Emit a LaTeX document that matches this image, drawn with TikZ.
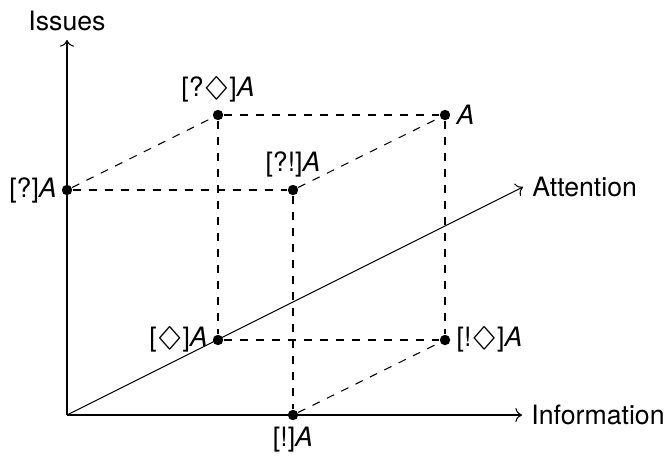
\documentclass[tikz,border=0pt]{standalone}
\usepackage{amsmath, amssymb}
\usepackage{graphicx}
\usepackage{fontspec}
\setmainfont{TeX Gyre Heros}
\usepackage{tikz}
\usetikzlibrary{arrows.meta}
\newcommand{\dmd}{\scalebox{1.45}[1.05]{$\Diamond$}}

\begin{document}
\begin{tikzpicture}[
    x=0.375pt, y=-0.375pt,
    dot/.style={circle, fill=black, inner sep=0pt, minimum size=3.9pt},
    lbl/.style={inner sep=0pt, font=\normalsize},
    axis/.style={draw, ->},
    guide/.style={draw, dashed}
  ]
    \useasboundingbox (0,0) rectangle (671,458);

    % Axes
    \coordinate (origin) at (67,415);
    \coordinate (infoend) at (522,415);
    \coordinate (issueend) at (67,40);
    \coordinate (attnend) at (523,187);
    \path [axis] (origin) -- (infoend) node [right] (info) {Information};
    \path [axis] (origin) -- (issueend) node [above] (issues) {Issues};
    \path [axis] (origin) -- (attnend) node [right] (attn) {Attention};

    % Nodes - the eight corners
    \node [dot, label={[lbl, label distance=1.5pt]left:[?]\textit{A}}] (q) at (67,190) {};
    \node [dot, label={[lbl, label distance=2.5pt]above:[?\dmd]\textit{A}}] (qd) at (218,115) {};
    \node [dot, label={[lbl, label distance=2pt]right:\textit{A}}] (a) at (445,115) {};
    \node [dot, label={[lbl, label distance=2.5pt]above:[?!]\textit{A}}] (qe) at (293,190) {};
    \node [dot, label={[lbl, label distance=1.5pt]left:[\dmd]\textit{A}}] (d) at (218,340) {};
    \node [dot, label={[lbl, label distance=2pt]right:[!\dmd]\textit{A}}] (ed) at (445,340) {};
    \node [dot, label={[lbl, label distance=2pt]below:[!]\textit{A}}] (e) at (293,415) {};

    % Dashed edges of the cube
    \path [guide] (q) -- (qd);
    \path [guide] (q) -- (qe);
    \path [guide] (qd) -- (a);
    \path [guide] (qe) -- (a);
    \path [guide] (qd) -- (d);
    \path [guide] (qe) -- (e);
    \path [guide] (a) -- (ed);
    \path [guide] (d) -- (ed);
    \path [guide] (e) -- (ed);

\end{tikzpicture}
\end{document}
